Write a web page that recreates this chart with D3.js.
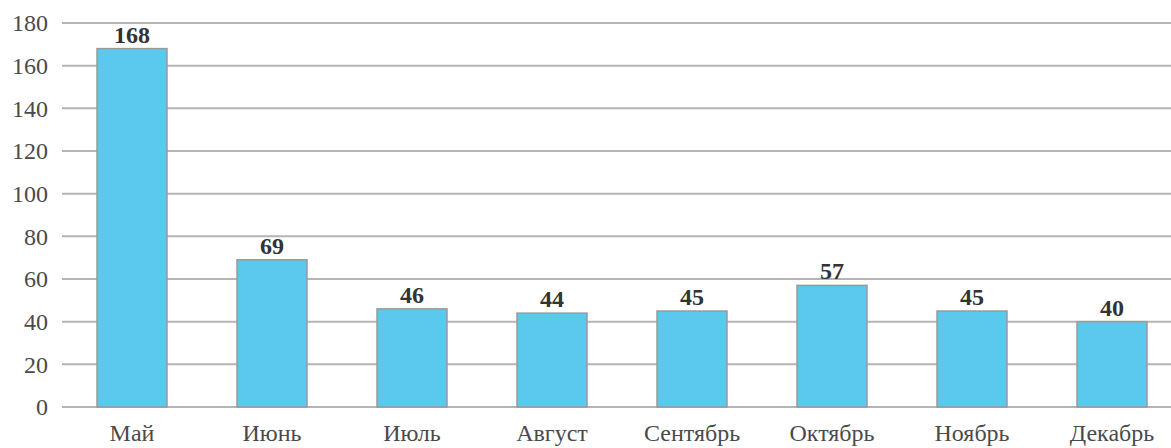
<!DOCTYPE html>
<html>
<head>
<meta charset="utf-8">
<script src="https://cdn.jsdelivr.net/npm/d3@7"></script>
<style>
  body { margin: 0; background: #fff; }
  svg { display: block; }
  svg text { font-family: "Liberation Serif", "Times New Roman", "DejaVu Serif", serif; }
</style>
</head>
<body>
<svg id="chart" width="1171" height="448"></svg>
<script>
// Data for the chart
const months = ["Май", "Июнь", "Июль", "Август", "Сентябрь", "Октябрь", "Ноябрь", "Декабрь"];
const counts = [168, 69, 46, 44, 45, 57, 45, 40];
const yTicks = [0, 20, 40, 60, 80, 100, 120, 140, 160, 180];

const svg = d3.select("#chart");
const plotLeft = 62, plotRight = 1182, plotTop = 23, plotBottom = 407;

const x = d3.scaleBand()
    .domain(months)
    .range([plotLeft, plotRight])
    .paddingInner(0.5)
    .paddingOuter(0.25);

const y = d3.scaleLinear()
    .domain([0, 180])
    .range([plotBottom, plotTop]);

// Gridlines
svg.append("g")
    .selectAll("line")
    .data(yTicks)
    .enter().append("line")
    .attr("x1", plotLeft)
    .attr("x2", 1171)
    .attr("y1", d => y(d))
    .attr("y2", d => y(d))
    .attr("stroke", "#b4b4b4")
    .attr("stroke-width", 2);

// Y axis labels
const yAxis = svg.append("g")
    .attr("transform", `translate(48,0)`)
    .call(d3.axisLeft(y).tickValues(yTicks).tickSize(0).tickPadding(0));
yAxis.select(".domain").remove();
yAxis.selectAll("text")
    .style("font-family", "'Liberation Serif', 'Times New Roman', serif")
    .style("font-size", "24px")
    .attr("fill", "#4a4a4a")
    .attr("text-anchor", "end")
    .attr("dy", "0.33em")
    .attr("x", 0);

// Bars
const data = months.map((m, i) => ({ month: m, value: counts[i] }));

svg.append("g")
    .selectAll("rect")
    .data(data)
    .enter().append("rect")
    .attr("x", d => x(d.month))
    .attr("y", d => y(d.value))
    .attr("width", x.bandwidth())
    .attr("height", d => y(0) - y(d.value))
    .attr("fill", "#5bc8ee")
    .attr("stroke", "#9a9a9a")
    .attr("stroke-width", 1.5);

// Value labels
svg.append("g")
    .selectAll("text")
    .data(data)
    .enter().append("text")
    .attr("x", d => x(d.month) + x.bandwidth() / 2)
    .attr("y", d => y(d.value) - 6)
    .attr("text-anchor", "middle")
    .style("font-size", "24px")
    .style("font-weight", "bold")
    .attr("fill", "#333")
    .text(d => d.value);

// X axis labels
const xAxis = svg.append("g")
    .attr("transform", `translate(0,${plotBottom})`)
    .call(d3.axisBottom(x).tickSize(0).tickPadding(0));
xAxis.select(".domain").remove();
xAxis.selectAll("text")
    .style("font-family", "'Liberation Serif', 'Times New Roman', serif")
    .style("font-size", "24px")
    .attr("fill", "#4a4a4a")
    .attr("dy", "1.42em");
</script>
</body>
</html>
